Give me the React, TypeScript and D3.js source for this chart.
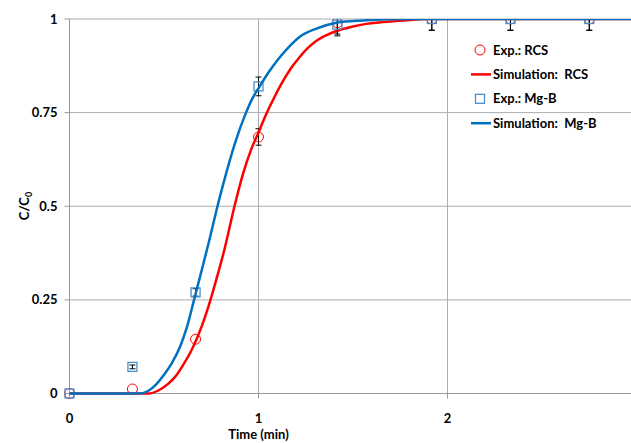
import React from "react";
import * as d3 from "d3";

const expTime = [0, 0.333, 0.667, 1.0, 1.417, 1.917, 2.333, 2.75];
const expRCS = [0, 0.012, 0.145, 0.685, 0.99, 1, 1, 1];
const errRCS = [0, 0, 0, 0.022, 0.03, 0.03, 0.03, 0.03];
const expMgB = [0, 0.071, 0.27, 0.82, 0.985, 1, 1, 1];
const errMgB = [0, 0.005, 0.01, 0.025, 0.03, 0.03, 0.03, 0.03];

const simRCSTime = [0, 0.42, 0.47, 0.52, 0.56, 0.6, 0.65, 0.7, 0.746, 0.78, 0.82, 0.873, 0.92, 0.96, 1.0, 1.04, 1.08, 1.127, 1.17, 1.217, 1.26, 1.307, 1.36, 1.413, 1.5, 1.571, 1.746, 1.9, 3];
const simRCS = [0, 0, 0.008, 0.025, 0.045, 0.075, 0.12, 0.18, 0.25, 0.31, 0.385, 0.5, 0.59, 0.65, 0.697, 0.745, 0.787, 0.832, 0.867, 0.898, 0.922, 0.942, 0.957, 0.968, 0.98, 0.987, 0.995, 1, 1];

const simMgBTime = [0, 0.37, 0.42, 0.46, 0.5, 0.54, 0.585, 0.62, 0.659, 0.7, 0.74, 0.778, 0.83, 0.88, 0.926, 0.97, 1.0, 1.05, 1.1, 1.16, 1.217, 1.31, 1.413, 1.55, 1.8, 3];
const simMgB = [0, 0, 0.008, 0.025, 0.05, 0.08, 0.125, 0.175, 0.25, 0.33, 0.41, 0.49, 0.59, 0.675, 0.74, 0.79, 0.815, 0.855, 0.89, 0.925, 0.952, 0.975, 0.99, 0.996, 1, 1];

const xTicks = [0, 1, 2];
const yTicks = [0, 0.25, 0.5, 0.75, 1];
const yTickLabels = ["0", "0.25", "0.5", "0.75", "1"];
const legendLabels = ["Exp.: RCS", "Simulation:  RCS", "Exp.: Mg-B", "Simulation:  Mg-B"];

const W = 631;
const H = 443;
const RED = "#ff0000";
const BLUE = "#0070c0";
const SQ = "#4a90cf";
const GRID = "#acacac";
const FONT = "Lato, 'Open Sans', sans-serif";

export default function App() {
  const x = d3.scaleLinear().domain([0, 3]).range([69.5, 69.5 + 3 * 189]);
  const y = d3.scaleLinear().domain([0, 1]).range([393.5, 19]);
  const line = d3
    .line<[number, number]>()
    .x((d) => x(d[0]))
    .y((d) => y(d[1]))
    .curve(d3.curveMonotoneX);
  const redPath = line(simRCSTime.map((t, i) => [t, simRCS[i]]) as [number, number][]) || "";
  const bluePath = line(simMgBTime.map((t, i) => [t, simMgB[i]]) as [number, number][]) || "";

  const errBars = (vals: number[], errs: number[], key: string) =>
    expTime.map((t, i) => {
      const e = errs[i];
      if (!e) return null;
      const cx = x(t);
      const y1 = y(vals[i] - e);
      const y2 = y(vals[i] + e);
      return (
        <g key={key + i} stroke="#000" strokeWidth={1}>
          <line x1={cx} x2={cx} y1={y1} y2={y2} />
          <line x1={cx - 3} x2={cx + 3} y1={y1} y2={y1} />
          <line x1={cx - 3} x2={cx + 3} y1={y2} y2={y2} />
        </g>
      );
    });

  const plotLeft = x(0);
  const plotTop = y(1);
  const plotBottom = y(0);

  return (
    <svg
      width={W}
      height={H}
      style={{ position: "absolute", left: 0, top: 0, background: "#fff" }}
      fontFamily={FONT}
    >
      <defs>
        <clipPath id="plotclip">
          <rect x={plotLeft - 10} y={plotTop} width={W} height={plotBottom - plotTop + 10} />
        </clipPath>
      </defs>
      {yTicks.slice(1).map((v) => (
        <line key={"gy" + v} x1={plotLeft} x2={W} y1={y(v)} y2={y(v)} stroke={GRID} strokeWidth={1} />
      ))}
      {xTicks.slice(1).map((v) => (
        <line key={"gx" + v} x1={x(v)} x2={x(v)} y1={plotTop} y2={plotBottom} stroke={GRID} strokeWidth={1} />
      ))}
      <line x1={plotLeft} x2={plotLeft} y1={plotTop} y2={plotBottom + 5} stroke="#999" />
      <line x1={plotLeft - 5} x2={W} y1={plotBottom} y2={plotBottom} stroke="#999" />
      {yTicks.map((v) => (
        <line key={"ty" + v} x1={plotLeft - 5} x2={plotLeft} y1={y(v)} y2={y(v)} stroke="#999" />
      ))}
      {xTicks.map((v) => (
        <line key={"tx" + v} x1={x(v)} x2={x(v)} y1={plotBottom} y2={plotBottom + 5} stroke="#999" />
      ))}
      {yTicks.map((v, i) => (
        <text key={"ly" + v} x={57.5} y={y(v)} dy="0.35em" textAnchor="end" fontSize={13} fontWeight={700} fill="#000">
          {yTickLabels[i]}
        </text>
      ))}
      {xTicks.map((v) => (
        <text key={"lx" + v} x={x(v)} y={418} dy="0.35em" textAnchor="middle" fontSize={13} fontWeight={700} fill="#000">
          {v}
        </text>
      ))}
      <text x={x(1)} y={434} dy="0.35em" textAnchor="middle" fontSize={13} fontWeight={700} fill="#000">
        Time (min)
      </text>
      <text
        transform={`translate(29,206) rotate(-90)`}
        textAnchor="middle"
        fontSize={13}
        fontWeight={700}
        fill="#000"
      >
        C/C<tspan fontSize={9} dy="3">0</tspan>
      </text>

      <g clipPath="url(#plotclip)">
        {errBars(expRCS, errRCS, "er")}
        {expTime.map((t, i) => (
          <circle key={"cr" + i} cx={x(t)} cy={y(expRCS[i])} r={5} fill="none" stroke={RED} strokeWidth={1} />
        ))}
        <path d={redPath} fill="none" stroke={RED} strokeWidth={2.5} />
        {errBars(expMgB, errMgB, "eb")}
        {expTime.map((t, i) => (
          <rect
            key={"sq" + i}
            x={x(t) - 4.5}
            y={y(expMgB[i]) - 4.5}
            width={9}
            height={9}
            fill="none"
            stroke={SQ}
            strokeWidth={1.3}
          />
        ))}
        <path d={bluePath} fill="none" stroke={BLUE} strokeWidth={2.5} />
      </g>

      {legendLabels.map((lab, i) => {
        const ly = 50 + i * 24.4;
        return (
          <g key={"lg" + i}>
            {i === 0 && <circle cx={480} cy={ly} r={5} fill="none" stroke={RED} strokeWidth={1} />}
            {i === 1 && <line x1={471} x2={491} y1={ly} y2={ly} stroke={RED} strokeWidth={2.5} />}
            {i === 2 && <rect x={475.5} y={ly - 4.5} width={9} height={9} fill="none" stroke={SQ} strokeWidth={1.3} />}
            {i === 3 && <line x1={471} x2={491} y1={ly} y2={ly} stroke={BLUE} strokeWidth={2.5} />}
            <text x={493} y={ly} dy="0.35em" fontSize={13} fontWeight={700} fill="#000" style={{ whiteSpace: "pre" }}>
              {lab}
            </text>
          </g>
        );
      })}
    </svg>
  );
}
